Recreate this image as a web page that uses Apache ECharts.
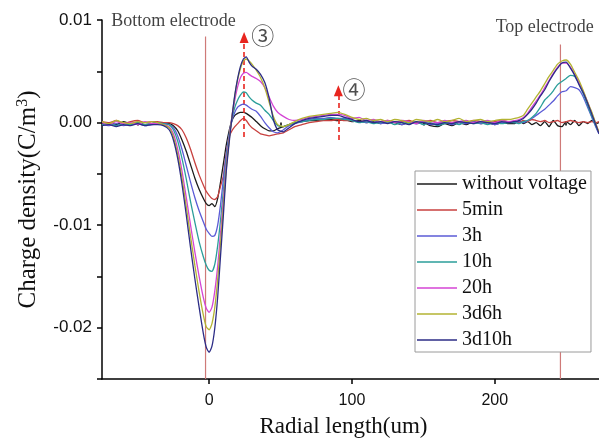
<!DOCTYPE html>
<html>
<head>
<meta charset="utf-8">
<script src="https://cdn.jsdelivr.net/npm/echarts@6/dist/echarts.min.js"></script>
<style>
  html, body { margin: 0; padding: 0; background: #fff; }
  #chart { width: 599px; height: 443px; }
</style>
</head>
<body>
<div id="chart"></div>
<script>
// Radial positions (um) shared by every charge-density profile
const radialX = [
  -75, -70, -65, -60, -55, -50, -45, -40,
  -36, -32, -28, -25, -22, -19, -16, -13, -10, -7, -4, -2, 0, 2, 4, 6, 8, 10, 12, 14, 16, 18,
  20, 22, 24, 26, 28, 30, 33, 36, 39, 42, 45, 48, 52, 56, 60,
  65, 70, 75, 80, 85, 90, 95, 100, 105, 110, 115, 120, 125, 130, 135, 140, 145, 150, 155, 160,
  165, 170, 175, 180, 185, 190, 195, 200, 205, 210,
  214, 217, 220, 223, 226, 229, 232, 235, 238, 241, 244, 247, 250, 253, 256, 259, 262, 265, 268, 271, 273
];

const seriesNames = ['without voltage', '5min', '3h', '10h', '20h', '3d6h', '3d10h'];
const seriesColors = ['#1c1c1c', '#c8413f', '#5b5bd6', '#2b9e9a', '#d444d4', '#b3b332', '#2c2c86'];

// Charge density (C/m3)
const withoutVoltage = [
  -0.0001, 0.0000, -0.0002, 0.0001, -0.0001, 0.0000, -0.0002, -0.0001,
  0.0000, -0.0001, -0.0001, -0.0003, -0.0008, -0.0017, -0.0028, -0.0041, -0.0054, -0.0065, -0.0074, -0.0079, -0.0081, -0.0079, -0.0082, -0.0074, -0.0058, -0.0040, -0.0022, -0.0008, 0.0002, 0.0007,
  0.0009, 0.0010, 0.0010, 0.0009, 0.0007, 0.0005, 0.0001, -0.0003, -0.0006, -0.0008, -0.0008, -0.0006, -0.0004, -0.0002, 0.0000,
  0.0001, 0.0002, 0.0002, 0.0003, 0.0003, 0.0002, 0.0003, 0.0001, 0.0002, 0.0000, 0.0001, -0.0001, 0.0001, 0.0000, -0.0002, 0.0001, -0.0001, 0.0000, -0.0003, -0.0004,
  -0.0001, -0.0003, 0.0000, -0.0002, 0.0001, -0.0001, 0.0000, -0.0002, 0.0000, -0.0001,
  -0.0001, 0.0002, -0.0001, 0.0001, -0.0002, 0.0000, -0.0003, 0.0001, -0.0004, 0.0002, -0.0003, -0.0004, 0.0001, -0.0002, 0.0002, -0.0003, 0.0001, -0.0001, 0.0002, -0.0001, 0.0000
];
const min5 = [
  0.0001, 0.0000, 0.0002, -0.0001, 0.0001, 0.0002, 0.0000, 0.0001,
  0.0001, 0.0000, 0.0000, -0.0001, -0.0003, -0.0007, -0.0015, -0.0026, -0.0039, -0.0051, -0.0061, -0.0067, -0.0071, -0.0074, -0.0075, -0.0072, -0.0062, -0.0052, -0.0030, -0.0014, -0.0008, -0.0004,
  -0.0001, 0.0002, 0.0004, 0.0002, -0.0002, -0.0005, -0.0008, -0.0011, -0.0012, -0.0013, -0.0012, -0.0011, -0.0010, -0.0007, -0.0004,
  -0.0002, 0.0000, 0.0001, 0.0002, 0.0002, 0.0003, 0.0002, 0.0002, 0.0001, 0.0002, 0.0000, 0.0001, 0.0002, 0.0000, 0.0001, 0.0002, 0.0000, 0.0001, 0.0002, 0.0000,
  0.0001, 0.0002, 0.0001, 0.0000, 0.0002, 0.0001, 0.0000, 0.0001, 0.0002, 0.0001,
  0.0001, 0.0000, 0.0002, 0.0001, 0.0003, 0.0002, 0.0001, 0.0002, 0.0000, 0.0001, 0.0002, 0.0000, 0.0001, 0.0002, 0.0001, 0.0000, 0.0001, 0.0000, 0.0001, 0.0000, 0.0001
];
const h3 = [
  -0.0002, -0.0003, -0.0001, -0.0003, -0.0002, -0.0001, -0.0003, -0.0002,
  -0.0001, -0.0001, -0.0002, -0.0005, -0.0013, -0.0026, -0.0042, -0.0058, -0.0073, -0.0086, -0.0097, -0.0104, -0.0108, -0.0111, -0.0110, -0.0100, -0.0080, -0.0055, -0.0031, -0.0012, 0.0002, 0.0010,
  0.0015, 0.0017, 0.0018, 0.0017, 0.0015, 0.0013, 0.0011, 0.0006, 0.0000, -0.0005, -0.0009, -0.0010, -0.0007, -0.0003, -0.0001,
  0.0001, 0.0003, 0.0004, 0.0004, 0.0005, 0.0004, 0.0004, 0.0002, 0.0001, 0.0000, 0.0002, -0.0001, 0.0000, 0.0001, -0.0002, 0.0000, -0.0001, 0.0001, -0.0002, -0.0001,
  0.0000, -0.0002, 0.0000, -0.0001, 0.0001, -0.0001, 0.0000, -0.0002, 0.0000, 0.0001,
  0.0000, 0.0001, 0.0000, 0.0002, 0.0004, 0.0007, 0.0010, 0.0013, 0.0017, 0.0021, 0.0026, 0.0030, 0.0031, 0.0035, 0.0034, 0.0032, 0.0025, 0.0015, 0.0005, -0.0005, -0.0011
];
const h10 = [
  -0.0002, -0.0001, -0.0003, -0.0001, -0.0002, 0.0000, -0.0002, -0.0001,
  0.0000, -0.0001, -0.0002, -0.0007, -0.0018, -0.0035, -0.0055, -0.0077, -0.0097, -0.0116, -0.0131, -0.0139, -0.0144, -0.0145, -0.0138, -0.0120, -0.0095, -0.0066, -0.0038, -0.0014, 0.0004, 0.0015,
  0.0022, 0.0027, 0.0030, 0.0029, 0.0025, 0.0022, 0.0019, 0.0017, 0.0012, 0.0008, 0.0002, -0.0003, -0.0004, -0.0002, 0.0000,
  0.0001, 0.0002, 0.0003, 0.0003, 0.0004, 0.0004, 0.0003, 0.0002, 0.0000, 0.0001, -0.0001, 0.0000, 0.0001, -0.0002, 0.0000, -0.0001, 0.0001, -0.0002, 0.0000, -0.0003,
  -0.0001, 0.0000, -0.0002, 0.0001, -0.0001, 0.0000, -0.0002, 0.0000, -0.0001, 0.0000,
  0.0000, -0.0001, 0.0001, 0.0002, 0.0005, 0.0009, 0.0015, 0.0022, 0.0026, 0.0031, 0.0037, 0.0040, 0.0043, 0.0046, 0.0045, 0.0038, 0.0028, 0.0017, 0.0006, -0.0004, -0.0010
];
const h20 = [
  0.0000, -0.0002, 0.0001, -0.0001, 0.0000, -0.0002, 0.0001, -0.0001,
  -0.0001, -0.0002, -0.0004, -0.0011, -0.0026, -0.0047, -0.0073, -0.0100, -0.0126, -0.0150, -0.0171, -0.0181, -0.0185, -0.0180, -0.0164, -0.0140, -0.0108, -0.0075, -0.0042, -0.0016, 0.0006, 0.0022,
  0.0035, 0.0044, 0.0048, 0.0049, 0.0047, 0.0045, 0.0043, 0.0040, 0.0034, 0.0025, 0.0016, 0.0010, 0.0006, 0.0003, 0.0002,
  0.0003, 0.0005, 0.0006, 0.0007, 0.0008, 0.0008, 0.0007, 0.0004, 0.0005, 0.0002, 0.0003, 0.0001, 0.0002, 0.0000, 0.0002, 0.0001, -0.0001, 0.0002, 0.0001, 0.0000,
  0.0002, 0.0000, 0.0001, 0.0002, 0.0000, 0.0001, 0.0002, 0.0000, 0.0002, 0.0001,
  0.0002, 0.0003, 0.0005, 0.0009, 0.0015, 0.0021, 0.0027, 0.0034, 0.0041, 0.0048, 0.0054, 0.0058, 0.0058, 0.0054, 0.0047, 0.0039, 0.0030, 0.0020, 0.0009, -0.0002, -0.0010
];
const d3h6 = [
  0.0001, -0.0001, 0.0002, 0.0000, -0.0001, 0.0001, 0.0000, 0.0001,
  0.0000, -0.0002, -0.0005, -0.0014, -0.0031, -0.0054, -0.0082, -0.0111, -0.0139, -0.0165, -0.0188, -0.0199, -0.0202, -0.0196, -0.0180, -0.0153, -0.0118, -0.0082, -0.0045, -0.0018, 0.0006, 0.0026,
  0.0042, 0.0053, 0.0060, 0.0062, 0.0060, 0.0057, 0.0051, 0.0044, 0.0034, 0.0020, 0.0006, -0.0002, -0.0004, -0.0002, 0.0001,
  0.0004, 0.0006, 0.0007, 0.0008, 0.0009, 0.0010, 0.0008, 0.0005, 0.0003, 0.0004, 0.0002, 0.0003, 0.0001, 0.0003, 0.0002, 0.0000, 0.0003, 0.0002, 0.0001, 0.0003,
  0.0001, 0.0002, 0.0004, 0.0001, 0.0002, 0.0003, 0.0001, 0.0002, 0.0003, 0.0003,
  0.0004, 0.0005, 0.0007, 0.0013, 0.0019, 0.0025, 0.0031, 0.0038, 0.0045, 0.0051, 0.0057, 0.0060, 0.0061, 0.0057, 0.0049, 0.0041, 0.0031, 0.0020, 0.0010, -0.0002, -0.0009
];
const d3h10 = [
  -0.0003, -0.0002, -0.0004, -0.0002, -0.0003, -0.0001, -0.0003, -0.0002,
  -0.0002, -0.0003, -0.0007, -0.0017, -0.0035, -0.0060, -0.0090, -0.0122, -0.0152, -0.0180, -0.0206, -0.0219, -0.0224, -0.0218, -0.0200, -0.0170, -0.0130, -0.0090, -0.0048, -0.0020, 0.0005, 0.0027,
  0.0043, 0.0055, 0.0062, 0.0064, 0.0059, 0.0055, 0.0052, 0.0047, 0.0039, 0.0024, 0.0003, -0.0007, -0.0009, -0.0005, -0.0001,
  0.0002, 0.0004, 0.0005, 0.0006, 0.0007, 0.0007, 0.0005, 0.0003, 0.0001, 0.0002, 0.0000, 0.0001, -0.0001, 0.0001, 0.0000, -0.0002, 0.0001, 0.0000, -0.0001, -0.0002,
  0.0000, -0.0001, 0.0001, 0.0000, -0.0001, 0.0001, 0.0000, -0.0001, 0.0001, 0.0000,
  0.0001, 0.0002, 0.0004, 0.0008, 0.0013, 0.0019, 0.0026, 0.0032, 0.0040, 0.0047, 0.0053, 0.0058, 0.0059, 0.0053, 0.0046, 0.0037, 0.0029, 0.0019, 0.0008, -0.0003, -0.0011
];
const profiles = [withoutVoltage, min5, h3, h10, h20, d3h6, d3h10];

// Axis ticks
const xMajorTicks = [0, 100, 200];
const xMinorTicks = [-50, 50, 150, 250];

// Electrode positions and their captions
const electrodeX = [-2.5, 246];
const electrodeTop = [0.0084, 0.0076];
const electrodeNames = ['Bottom electrode', 'Top electrode'];
const electrodeCaptionX = [-25, 235];
const electrodeCaptionY = [0.0099, 0.0093];

// Peak markers (dashed arrows) and their tags
const arrowX = [24.5, 90.5];
const arrowFrom = [-0.0014, -0.0017];
const arrowTo = [0.0083, 0.0031];
const arrowTags = ['③', '④'];
const arrowTagX = [37.5, 101.5];
const arrowTagY = [0.0085, 0.0032];

const serif = "'Liberation Serif','Times New Roman',serif";
const sans = "'Liberation Sans',Arial,sans-serif";
const circledFont = "'Noto Sans CJK SC','DejaVu Sans',sans-serif";

const chart = echarts.init(document.getElementById('chart'), null, { renderer: 'canvas' });

const profileSeries = seriesNames.map((name, k) => ({
  name,
  type: 'line',
  xAxisIndex: 0,
  data: radialX.map((x, i) => [x, profiles[k][i]]),
  symbol: 'none',
  smooth: 0.2,
  clip: true,
  lineStyle: { color: seriesColors[k], width: 1.3 },
  itemStyle: { color: seriesColors[k] },
  z: 3 + k
}));

const electrodeSeries = electrodeX.map((x, k) => ({
  type: 'line',
  xAxisIndex: 0,
  data: [[x, -0.025], [x, electrodeTop[k]]],
  symbol: 'none',
  silent: true,
  lineStyle: { color: '#cf7a78', width: 1.2 },
  z: 2
}));

// Text captions placed in data coordinates
const captionData = electrodeNames
  .map((t, k) => ({ value: [electrodeCaptionX[k], electrodeCaptionY[k], t] }))
  .concat(arrowTags.map((t, k) => ({
    value: [arrowTagX[k], arrowTagY[k], t],
    label: { fontFamily: circledFont, fontSize: 23, color: '#222' }
  })));

const captionSeries = {
  type: 'scatter',
  xAxisIndex: 0,
  symbolSize: 0.1,
  silent: true,
  itemStyle: { color: 'rgba(0,0,0,0)' },
  data: captionData,
  label: {
    show: true,
    position: 'inside',
    formatter: p => p.value[2],
    color: '#111',
    fontFamily: serif,
    fontSize: 18
  },
  z: 20
};

const arrowSeries = {
  type: 'line',
  xAxisIndex: 0,
  data: [],
  silent: true,
  markLine: {
    silent: true,
    symbol: ['none', 'triangle'],
    symbolSize: [9, 11],
    label: { show: false },
    lineStyle: { color: '#e8251f', width: 1.6, type: [5, 3] },
    data: arrowX.map((x, k) => [{ coord: [x, arrowFrom[k]] }, { coord: [x, arrowTo[k]] }])
  },
  z: 15
};

const option = {
  animation: false,
  backgroundColor: '#fff',
  grid: { left: 102, right: 0, top: 20, bottom: 59 },
  legend: {
    data: seriesNames,
    orient: 'vertical',
    left: 415,
    top: 171,
    icon: 'rect',
    itemWidth: 40,
    itemHeight: 1.4,
    itemGap: 6,
    padding: [3, 4, 2, 2],
    backgroundColor: '#fff',
    borderColor: '#9a9a9a',
    borderWidth: 1,
    textStyle: { fontFamily: serif, fontSize: 20, color: '#111', lineHeight: 20 },
    z: 30
  },
  xAxis: [
    {
      type: 'value', min: -75, max: 273, position: 'bottom',
      axisLine: { show: true, onZero: false, lineStyle: { color: '#000', width: 1.5 } },
      axisTick: { show: true, length: 5, customValues: xMajorTicks, lineStyle: { color: '#000', width: 1.5 } },
      axisLabel: { customValues: xMajorTicks, margin: 14, fontSize: 16, color: '#111', fontFamily: sans },
      splitLine: { show: false },
      name: 'Radial length(um)', nameLocation: 'middle', nameGap: 36,
      nameTextStyle: { fontFamily: serif, fontSize: 23, color: '#111', padding: [0, 14, 0, 0] }
    },
    {
      type: 'value', min: -75, max: 273, position: 'bottom',
      axisLine: { show: false },
      axisTick: { show: true, length: 3, customValues: xMinorTicks, lineStyle: { color: '#000', width: 1.5 } },
      axisLabel: { show: false },
      splitLine: { show: false }
    }
  ],
  yAxis: {
    type: 'value', min: -0.025, max: 0.01, interval: 0.005,
    axisLine: { show: true, onZero: false, lineStyle: { color: '#000', width: 1.5 } },
    axisTick: { show: true, length: 5, lineStyle: { color: '#000', width: 1.5 } },
    axisLabel: {
      margin: 10, fontSize: 17, color: '#111', fontFamily: sans,
      formatter: v => (Math.round(v * 1000) % 10 === 0 ? v.toFixed(2) : '')
    },
    splitLine: { show: false },
    name: '{a|Charge density(C/m}{s|3}{a|)}',
    nameLocation: 'middle',
    nameGap: 60,
    nameTextStyle: {
      color: '#111',
      rich: {
        a: { fontFamily: serif, fontSize: 25, color: '#111' },
        s: { fontFamily: serif, fontSize: 16, color: '#111', verticalAlign: 'top', padding: [0, 0, 11, 0] }
      }
    }
  },
  series: [...electrodeSeries, ...profileSeries, arrowSeries, captionSeries]
};

chart.setOption(option);
</script>
</body>
</html>
